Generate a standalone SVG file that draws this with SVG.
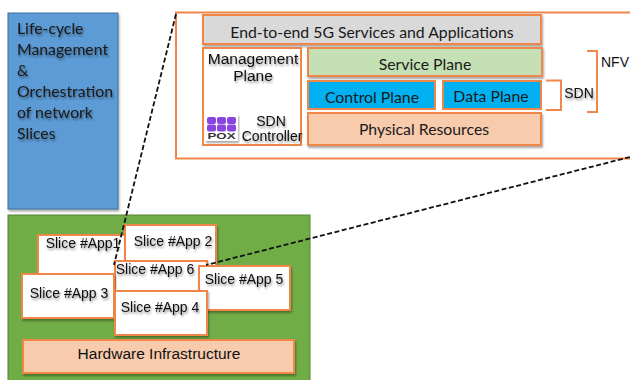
<svg xmlns="http://www.w3.org/2000/svg" width="630" height="380" viewBox="0 0 630 380">
<defs>
<filter id="ts" x="-20%" y="-30%" width="140%" height="170%"><feGaussianBlur in="SourceAlpha" stdDeviation="1.3"/><feOffset dx="1" dy="2"/><feComponentTransfer><feFuncA type="linear" slope="0.45"/></feComponentTransfer><feMerge><feMergeNode/><feMergeNode in="SourceGraphic"/></feMerge></filter>
<filter id="bs" x="-5%" y="-10%" width="110%" height="125%"><feGaussianBlur in="SourceAlpha" stdDeviation="1.2"/><feOffset dx="1" dy="1.5"/><feComponentTransfer><feFuncA type="linear" slope="0.35"/></feComponentTransfer><feMerge><feMergeNode/><feMergeNode in="SourceGraphic"/></feMerge></filter>
</defs>
<style>
.o{stroke:#f0874a;stroke-width:2}
.c{font-family:"Lato","Open Sans",sans-serif;font-size:15.8px;fill:#1a1a1a;text-anchor:middle}
.a{font-family:"Liberation Sans",Arial,sans-serif;font-size:14px;fill:#111;text-anchor:middle}
.m{font-size:15.500px}
.l{font-family:"Lato","Open Sans",sans-serif;font-size:15.800px;fill:#1a1a1a}
.s{fill:#fff;filter:url(#bs)}
.b{fill:none;stroke:#f0874a;stroke-width:2}
.d{fill:none;stroke:#111;stroke-width:1.8;stroke-dasharray:5 2.5}
</style>
<rect width="630" height="380" fill="#fff"/>
<g id="lifecycle">
<rect x="8" y="13" width="110" height="196" fill="#5b9bd5" stroke="#41719c" filter="url(#bs)"/>
<g filter="url(#ts)"><text class="l" x="17" y="34">Life-cycle</text><text class="l" x="17" y="55">Management</text><text class="l" x="17" y="76">&amp;</text><text class="l" x="17" y="97">Orchestration</text><text class="l" x="17" y="118">of network</text><text class="l" x="17" y="139">Slices</text></g>
</g>
<g id="zoom-frame"><rect x="176" y="12.500" width="460" height="146" fill="#fff" class="o"/></g>
<g id="services"><rect x="203" y="15" width="338" height="29" fill="#d9d9d9" class="o" filter="url(#bs)"/><text class="c" x="372" y="38">End-to-end 5G Services and Applications</text></g>
<g id="management-plane">
<rect x="203" y="48" width="98" height="97" fill="#fff" class="o"/>
<g filter="url(#ts)"><text class="a m" x="253" y="64">Management</text><text class="a m" x="253" y="81">Plane</text><text class="a" x="271" y="126">SDN</text><text class="a" x="272" y="141">Controller</text></g>
</g>
<g id="pox-logo">
<rect x="205" y="114" width="33" height="27" fill="#fff" filter="url(#bs)"/>
<g fill="#8a45e0"><rect x="207" y="117" width="9" height="7" rx="2"/><rect x="217" y="117" width="9" height="7" rx="2"/><rect x="227" y="117" width="9" height="7" rx="2"/><rect x="207" y="124.500" width="9" height="7" rx="2"/><rect x="217" y="124.500" width="9" height="7" rx="2"/><rect x="227" y="124.500" width="9" height="7" rx="2"/></g>
<text x="221.500" y="139" font-family="'Liberation Sans',sans-serif" font-size="8.500" font-weight="bold" fill="#333" text-anchor="middle" textLength="28" lengthAdjust="spacingAndGlyphs">POX</text>
</g>
<g id="service-plane"><rect x="308" y="48" width="234" height="28" fill="#c5e0b4" class="o" filter="url(#bs)"/><text class="c" x="425" y="70">Service Plane</text></g>
<g id="control-plane"><rect x="308" y="81" width="127" height="28" fill="#00b0f0" class="o"/><text class="c" x="372" y="103">Control Plane</text></g>
<g id="data-plane"><rect x="443" y="81" width="98" height="28" fill="#00b0f0" class="o"/><text class="c" x="491" y="102">Data Plane</text></g>
<g id="physical"><rect x="308" y="113" width="233" height="32" fill="#f8cbad" class="o" filter="url(#bs)"/><text class="c" x="424" y="135">Physical Resources</text></g>
<g id="sdn-label"><path class="b" d="M546 80.500H561V110H546"/><text class="a" x="579" y="98" filter="url(#ts)">SDN</text></g>
<g id="nfv-label"><path class="b" d="M587 51H597V112H587"/><text class="a" x="615" y="67">NFV</text></g>
<g id="infrastructure"><rect x="8" y="215" width="302" height="170" fill="#70ad47" stroke="#548235"/></g>
<g id="slice-1"><rect x="38" y="235" width="90" height="44" class="s"/><path class="o" fill="none" d="M38 279V235H128"/><text class="a" x="83" y="248" filter="url(#ts)">Slice #App1</text></g>
<g id="slice-2"><rect x="125" y="225" width="91" height="44" class="s o"/><text class="a" x="173" y="246" filter="url(#ts)">Slice #App 2</text></g>
<g id="slice-6"><rect x="115" y="261" width="92" height="44" class="s o"/><text class="a" x="155" y="274" filter="url(#ts)">Slice #App 6</text></g>
<g id="slice-3"><rect x="22" y="274" width="92" height="44" class="s o"/><text class="a" x="69" y="298" filter="url(#ts)">Slice #App 3</text></g>
<g id="slice-5"><rect x="199" y="266" width="91" height="44" class="s o"/><text class="a" x="244" y="284" filter="url(#ts)">Slice #App 5</text></g>
<g id="slice-4"><rect x="115" y="291" width="92" height="44" class="s o"/><text class="a" x="160" y="312" filter="url(#ts)">Slice #App 4</text></g>
<g id="hardware"><rect x="23" y="340" width="271" height="33" fill="#f8cbad" class="o" filter="url(#bs)"/><text class="a" x="159" y="359" style="font-size:15.500px">Hardware Infrastructure</text></g>
<g id="connectors"><path class="d" d="M176 14L114 265"/><path class="d" d="M630 157L206 265"/></g>
</svg>
